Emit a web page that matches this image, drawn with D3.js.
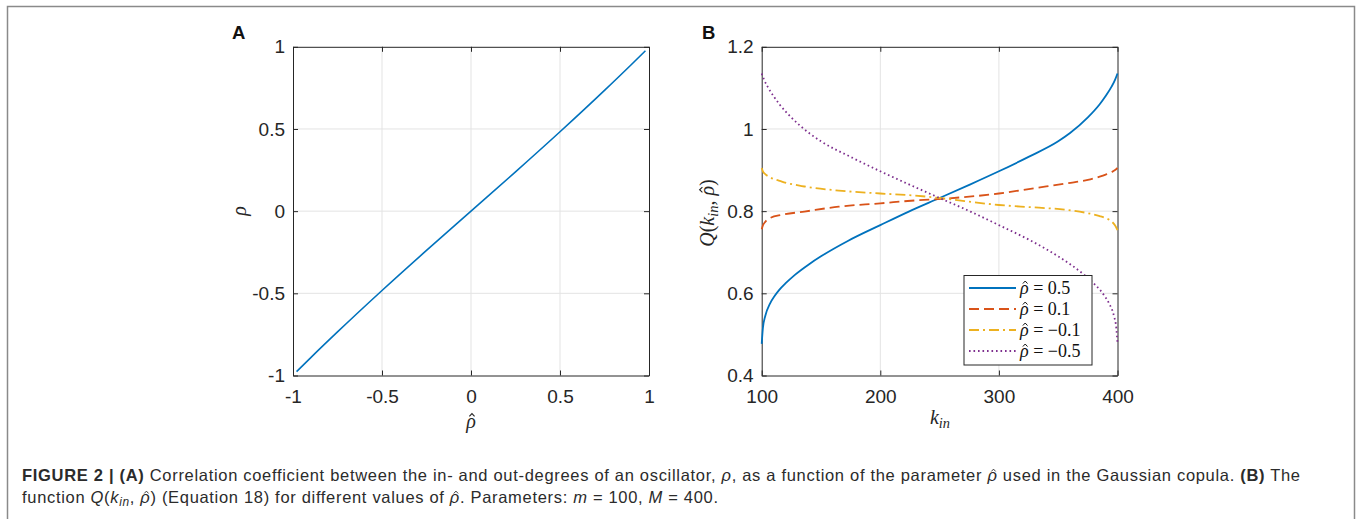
<!DOCTYPE html>
<html><head><meta charset="utf-8">
<script src="https://cdn.jsdelivr.net/npm/d3@7"></script>
<style>
html,body{margin:0;padding:0;background:#fff;}
svg{display:block;}
</style></head>
<body>
<svg id="chart" width="1360" height="519"></svg>
<script>
// ---------- DATA ----------
// Panel A: rho as a function of rho-hat
const rhoHatA = [-0.98, -0.9, -0.75, -0.5, -0.25, 0, 0.25, 0.5, 0.75, 0.9, 0.98];
const rhoA    = [-0.976, -0.891, -0.735, -0.483, -0.239, 0, 0.239, 0.483, 0.735, 0.891, 0.976];
const xTicksA = [-1, -0.5, 0, 0.5, 1];
const yTicksA = [-1, -0.5, 0, 0.5, 1];

// Panel B: Q(k_in, rho-hat)
const kBlue  = [100, 101, 103, 107, 111, 115, 120, 128, 140, 150, 173, 200, 224, 250, 275, 300, 325, 350, 360, 375, 385, 390, 395, 398, 400];
const qBlue  = [0.477, 0.515, 0.545, 0.575, 0.594, 0.609, 0.624, 0.645, 0.671, 0.690, 0.728, 0.766, 0.799, 0.832, 0.864, 0.897, 0.932, 0.970, 0.990, 1.028, 1.060, 1.080, 1.103, 1.120, 1.135];
const kRed   = [100, 101, 103, 107, 117, 136, 165, 200, 229, 252, 300, 330, 358, 375, 385, 390, 395, 398, 400];
const qRed   = [0.756, 0.765, 0.774, 0.783, 0.791, 0.799, 0.811, 0.819, 0.826, 0.830, 0.843, 0.856, 0.868, 0.876, 0.884, 0.889, 0.895, 0.900, 0.905];
const kYel   = [100, 101, 103, 106, 117, 136, 165, 200, 229, 250, 300, 330, 358, 375, 385, 390, 395, 398, 400];
const qYel   = [0.905, 0.897, 0.890, 0.884, 0.872, 0.860, 0.850, 0.843, 0.838, 0.832, 0.815, 0.809, 0.803, 0.795, 0.788, 0.783, 0.775, 0.765, 0.754];
const kPur   = [100, 102, 105, 110, 115, 125, 140, 150, 175, 200, 225, 250, 276, 300, 327, 350, 360, 372, 380, 385, 389, 393, 397, 399, 400];
const qPur   = [1.135, 1.120, 1.103, 1.080, 1.060, 1.028, 0.990, 0.970, 0.932, 0.897, 0.864, 0.832, 0.799, 0.766, 0.728, 0.690, 0.671, 0.645, 0.624, 0.609, 0.594, 0.575, 0.545, 0.515, 0.478];
const seriesNames = ["0.5", "0.1", "\u22120.1", "\u22120.5"];
const xTicksB = [100, 200, 300, 400];
const yTicksB = [0.4, 0.6, 0.8, 1, 1.2];

// ---------- LAYOUT ----------
const svg = d3.select("#chart");
const AX = "#262626", GRID = "#e3e3e3";
const TICKFONT = "'Liberation Sans', Arial, sans-serif";
const SERIF = "'Liberation Serif', 'Times New Roman', serif";
const RHO = "\u03C1";

// Rich text: parts = [{t, b, i, sub, hat}], hats are drawn as small paths over the marked characters
function rich(parent, attrs, fontSize, parts, fill, fitTo) {
  const t = parent.append("text");
  Object.entries(attrs).forEach(([k, v]) => t.attr(k, v));
  t.style("font-size", fontSize + "px").attr("fill", fill);
  const hatIdx = [];
  let idx = 0, inSub = false;
  parts.forEach(p => {
    const ts = t.append("tspan").text(p.t);
    if (p.b) ts.style("font-weight", "bold");
    if (p.i) ts.style("font-style", "italic");
    if (p.sub && !inSub) { ts.attr("dy", fontSize * 0.2).style("font-size", (fontSize * 0.72) + "px"); inSub = true; }
    else if (p.sub) ts.style("font-size", (fontSize * 0.72) + "px");
    else if (inSub) { ts.attr("dy", -fontSize * 0.2); inSub = false; }
    if (p.hat) hatIdx.push(idx);
    idx += p.t.length;
  });
  return {t, hatIdx, fontSize, fill, attrs, parent, fitTo};
}
function finish(rt) {
  const node = rt.t.node();
  if (rt.fitTo) {
    const n = node.getNumberOfChars();
    const w = node.getBBox().width;
    rt.t.style("letter-spacing", ((rt.fitTo - w) / (n - 1)) + "px");
  }
  const fs = rt.fontSize;
  const g = rt.parent.append("g");
  if (rt.attrs.transform) g.attr("transform", rt.attrs.transform);
  rt.hatIdx.forEach(i => {
    const ext = node.getExtentOfChar(i);
    const base = node.getStartPositionOfChar(i).y;
    const cx = ext.x + ext.width * 0.6;
    const hw = fs * 0.13;
    g.append("path")
      .attr("d", `M${cx - hw},${base - fs * 0.58} L${cx},${base - fs * 0.72} L${cx + hw},${base - fs * 0.58}`)
      .attr("fill", "none").attr("stroke", rt.fill).attr("stroke-width", Math.max(0.9, fs * 0.055))
      .attr("stroke-linejoin", "miter");
  });
}

// figure frame
svg.append("path").attr("d", "M7.5,519 V6.5 H1354.5 V519")
  .attr("fill", "none").attr("stroke", "#8a8a8a").attr("stroke-width", 1.5);

function makePanel(xDom, yDom, xr, yr, xt, yt, fmtX, fmtY) {
  const x = d3.scaleLinear().domain(xDom).range(xr);
  const y = d3.scaleLinear().domain(yDom).range(yr);
  const g = svg.append("g");
  g.append("g").selectAll("line").data(xt.slice(1, -1)).join("line")
    .attr("x1", d => x(d)).attr("x2", d => x(d)).attr("y1", yr[0]).attr("y2", yr[1])
    .attr("stroke", GRID).attr("stroke-width", 1);
  g.append("g").selectAll("line").data(yt.slice(1, -1)).join("line")
    .attr("y1", d => y(d)).attr("y2", d => y(d)).attr("x1", xr[0]).attr("x2", xr[1])
    .attr("stroke", GRID).attr("stroke-width", 1);
  const style = s => {
    s.select(".domain").attr("stroke", AX).attr("stroke-width", 1);
    s.selectAll(".tick line").attr("stroke", AX).attr("stroke-width", 1);
    s.selectAll("text").attr("fill", AX).style("font-family", TICKFONT).style("font-size", "19px");
  };
  const bottom = g.append("g").attr("transform", `translate(0,${yr[0]})`)
    .call(d3.axisBottom(x).tickValues(xt).tickSize(-5).tickSizeOuter(0).tickPadding(14).tickFormat(fmtX)).call(style);
  bottom.selectAll(".tick text").attr("dy", "0.72em");
  g.append("g").attr("transform", `translate(0,${yr[1]})`)
    .call(d3.axisTop(x).tickValues(xt).tickSize(-5).tickSizeOuter(0).tickFormat("")).call(style);
  g.append("g").attr("transform", `translate(${xr[0]},0)`)
    .call(d3.axisLeft(y).tickValues(yt).tickSize(-5).tickSizeOuter(0).tickPadding(8).tickFormat(fmtY)).call(style);
  g.append("g").attr("transform", `translate(${xr[1]},0)`)
    .call(d3.axisRight(y).tickValues(yt).tickSize(-5).tickSizeOuter(0).tickFormat("")).call(style);
  return {x, y, g};
}

const fmtA = d => String(d);
const A = makePanel([-1, 1], [-1, 1], [293, 649], [375.5, 46.8], xTicksA, yTicksA, fmtA, fmtA);
const B = makePanel([100, 400], [0.4, 1.2], [761.7, 1117.5], [375.5, 46.8], xTicksB, yTicksB, d => String(d), d => String(d));

// panel A line
const lineA = d3.line().x(d => A.x(d[0])).y(d => A.y(d[1])).curve(d3.curveMonotoneX);
svg.append("path").datum(rhoHatA.map((v, i) => [v, rhoA[i]])).attr("d", lineA)
  .attr("fill", "none").attr("stroke", "#0072BD").attr("stroke-width", 1.6);

// panel B lines
const seriesB = [
  {k: kBlue, q: qBlue, color: "#0072BD", dash: null},
  {k: kRed,  q: qRed,  color: "#D95319", dash: "10,5"},
  {k: kYel,  q: qYel,  color: "#EDB120", dash: "10,4,2,4"},
  {k: kPur,  q: qPur,  color: "#7E2F8E", dash: "1.6,2.9"}
];
const lineB = d3.line().x(d => B.x(d[0])).y(d => B.y(d[1])).curve(d3.curveMonotoneX);
seriesB.forEach(s => {
  svg.append("path").datum(s.k.map((v, i) => [v, s.q[i]])).attr("d", lineB)
    .attr("fill", "none").attr("stroke", s.color).attr("stroke-width", 1.8)
    .attr("stroke-dasharray", s.dash);
});

const texts = [];
// legend
const lg = svg.append("g");
lg.append("rect").attr("x", 964).attr("y", 275.5).attr("width", 128).attr("height", 89.5)
  .attr("fill", "#fff").attr("stroke", AX).attr("stroke-width", 1);
seriesB.forEach((s, i) => {
  const yy = 288 + i * 21;
  lg.append("path").attr("d", d3.line()([[969, yy], [1016, yy]]))
    .attr("stroke", s.color).attr("stroke-width", 1.8).attr("fill", "none")
    .attr("stroke-dasharray", s.dash);
  texts.push(rich(lg, {x: 1020, y: yy + 6, "font-family": SERIF}, 18,
    [{t: RHO, i: true, hat: true}, {t: " = " + seriesNames[i]}], "#111"));
});

// panel letters
svg.append("text").attr("x", 232).attr("y", 38.5).text("A")
  .style("font-family", TICKFONT).style("font-weight", "bold").style("font-size", "18.5px").attr("fill", "#111");
svg.append("text").attr("x", 702).attr("y", 38.5).text("B")
  .style("font-family", TICKFONT).style("font-weight", "bold").style("font-size", "18.5px").attr("fill", "#111");

// axis labels
texts.push(rich(svg, {x: 471, y: 428, "text-anchor": "middle", "font-family": SERIF}, 20,
  [{t: RHO, i: true, hat: true}], AX));
texts.push(rich(svg, {transform: "translate(246,211) rotate(-90)", "text-anchor": "middle", "font-family": SERIF}, 20,
  [{t: RHO, i: true}], AX));
texts.push(rich(svg, {x: 940, y: 424, "text-anchor": "middle", "font-family": SERIF}, 20,
  [{t: "k", i: true}, {t: "in", i: true, sub: true}], AX));
texts.push(rich(svg, {transform: "translate(714,213) rotate(-90)", "text-anchor": "middle", "font-family": SERIF}, 20,
  [{t: "Q", i: true}, {t: "("}, {t: "k", i: true}, {t: "in", i: true, sub: true}, {t: ", "},
   {t: RHO, i: true, hat: true}, {t: ")"}], AX));

// caption
const CAP = "'Liberation Sans', Arial, sans-serif";
texts.push(rich(svg, {x: 22, y: 481, "font-family": CAP}, 16.5, [
  {t: "FIGURE 2 | (A)", b: true},
  {t: " Correlation coefficient between the in- and out-degrees of an oscillator, "},
  {t: RHO, i: true},
  {t: ", as a function of the parameter "},
  {t: RHO, i: true, hat: true},
  {t: " used in the Gaussian copula. "},
  {t: "(B)", b: true},
  {t: " The"}], "#2b2b2b", 1278));
texts.push(rich(svg, {x: 22, y: 503, "font-family": CAP}, 16.5, [
  {t: "function "}, {t: "Q", i: true}, {t: "("}, {t: "k", i: true}, {t: "in", i: true, sub: true},
  {t: ", "}, {t: RHO, i: true, hat: true},
  {t: ") (Equation 18) for different values of "}, {t: RHO, i: true, hat: true},
  {t: ". Parameters: "}, {t: "m", i: true}, {t: " = 100, "}, {t: "M", i: true}, {t: " = 400."}], "#2b2b2b", 696));

texts.forEach(finish);
</script>
</body></html>
